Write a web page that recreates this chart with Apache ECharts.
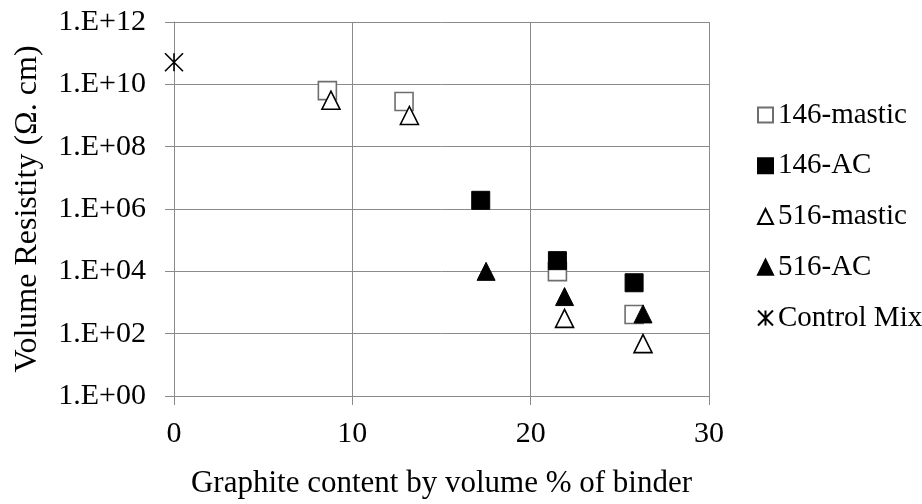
<!DOCTYPE html>
<html>
<head>
<meta charset="utf-8">
<script src="https://cdn.jsdelivr.net/npm/echarts@6/dist/echarts.min.js"></script>
<style>
  html, body { margin: 0; padding: 0; background: #fff; }
  #chart { width: 922px; height: 504px; }
</style>
</head>
<body>
<div id="chart"></div>
<script>
// Volume resistivity vs. graphite content
const mastic146X = [8.6, 12.9, 21.5, 25.8];
const mastic146Y = [6.3e9, 2.8e9, 9.8e3, 410];
const ac146X = [17.2, 21.5, 25.8];
const ac146Y = [1.9e6, 2.2e4, 4.3e3];
const mastic516X = [8.8, 13.2, 21.9, 26.3];
const mastic516Y = [3.1e9, 1.0e9, 310, 48];
const ac516X = [17.5, 21.9, 26.3];
const ac516Y = [1.0e4, 1.55e3, 430];
const controlX = [0];
const controlY = [5.1e10];

const xTicks = [0, 10, 20, 30];
const seriesNames = ['146-mastic', '146-AC', '516-mastic', '516-AC', 'Control Mix'];

const pairs = (xs, ys) => xs.map((x, i) => [x, ys[i]]);
const FONT = 'Liberation Serif';
const GRID = '#8a8a8a';
const STAR = 'path://M0,0 L10,10 M10,0 L0,10 M5,0 L5,10';

const chart = echarts.init(document.getElementById('chart'), null, { renderer: 'canvas' });

chart.setOption({
  animation: false,
  backgroundColor: '#ffffff',
  grid: { left: 174, right: 213, top: 22, bottom: 107 },
  legend: {
    orient: 'vertical',
    left: 752,
    top: 95.5,
    itemWidth: 15,
    itemHeight: 15,
    itemGap: 21.75,
    textStyle: { fontFamily: FONT, fontSize: 29, color: '#000', lineHeight: 29 },
    data: seriesNames
  },
  xAxis: {
    type: 'value',
    min: xTicks[0],
    max: xTicks[xTicks.length - 1],
    interval: 10,
    name: 'Graphite content by volume % of binder',
    nameLocation: 'middle',
    nameGap: 72,
    nameTextStyle: { fontFamily: FONT, fontSize: 31, color: '#000' },
    axisLine: { show: true, lineStyle: { color: GRID, width: 1 } },
    axisTick: { show: true, inside: false, length: 9, lineStyle: { color: GRID } },
    axisLabel: { fontFamily: FONT, fontSize: 30, color: '#000', margin: 23 },
    splitLine: { show: true, lineStyle: { color: GRID, width: 1 } }
  },
  yAxis: {
    type: 'log',
    logBase: 10,
    min: 1,
    max: 1e12,
    interval: 2,
    name: 'Volume Resistity (Ω. cm)',
    nameLocation: 'middle',
    nameGap: 130,
    nameTextStyle: { fontFamily: FONT, fontSize: 32, color: '#000' },
    axisLine: { show: true, lineStyle: { color: GRID, width: 1 } },
    axisTick: { show: true, inside: false, length: 9, lineStyle: { color: GRID } },
    axisLabel: {
      fontFamily: FONT, fontSize: 30, color: '#000', margin: 28,
      formatter: v => {
        const e = Math.round(Math.log10(v));
        return '1.E+' + (e < 10 ? '0' + e : String(e));
      }
    },
    splitLine: { show: true, lineStyle: { color: GRID, width: 1 } }
  },
  series: [
    {
      name: seriesNames[0], type: 'scatter', symbol: 'rect', symbolSize: 18,
      itemStyle: { color: '#ffffff', borderColor: '#6e6e6e', borderWidth: 1.6, opacity: 1 },
      data: pairs(mastic146X, mastic146Y)
    },
    {
      name: seriesNames[1], type: 'scatter', symbol: 'rect', symbolSize: 18,
      itemStyle: { color: '#000000', borderColor: '#000000', borderWidth: 1, opacity: 1 },
      data: pairs(ac146X, ac146Y)
    },
    {
      name: seriesNames[2], type: 'scatter', symbol: 'triangle', symbolSize: 18,
      itemStyle: { color: '#ffffff', borderColor: '#000000', borderWidth: 1.6, opacity: 1 },
      data: pairs(mastic516X, mastic516Y)
    },
    {
      name: seriesNames[3], type: 'scatter', symbol: 'triangle', symbolSize: 18,
      itemStyle: { color: '#000000', borderColor: '#000000', borderWidth: 1, opacity: 1 },
      data: pairs(ac516X, ac516Y)
    },
    {
      name: seriesNames[4], type: 'scatter', symbol: STAR, symbolSize: 18,
      itemStyle: { color: 'rgba(0,0,0,0)', borderColor: '#000000', borderWidth: 1.6, opacity: 1 },
      data: pairs(controlX, controlY)
    }
  ]
});
</script>
</body>
</html>
